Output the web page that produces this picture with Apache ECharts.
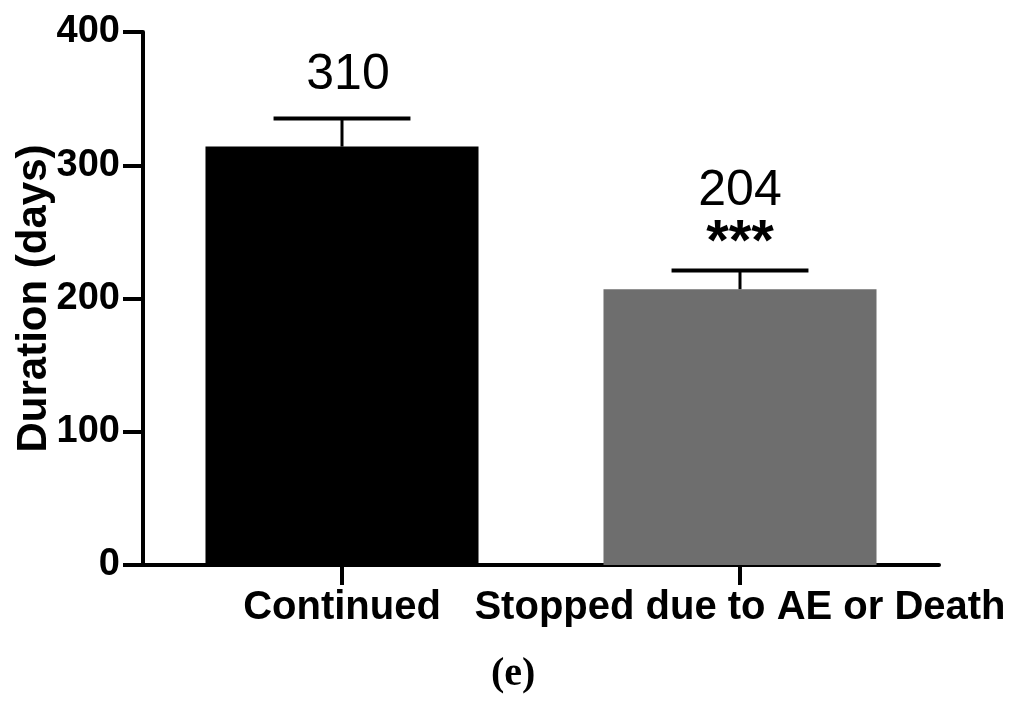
<!DOCTYPE html>
<html>
<head>
<meta charset="utf-8">
<script src="https://cdn.jsdelivr.net/npm/echarts@6/dist/echarts.min.js"></script>
<style>
  html, body { margin: 0; padding: 0; background: #fff; }
  #grafico { width: 1024px; height: 710px; }
</style>
</head>
<body>
<div id="grafico"></div>
<script>
// dados
const categorias = ["Continued", "Stopped due to AE or Death"];
const duracoes = [314, 207];
const topoErro = [335, 221];
const rotulosValor = ["310", "204"];
const rotulosSig = ["", "***"];
const coresBarras = ["#000000", "#6e6e6e"];
const yMin = 0, yMax = 400, yPasso = 100;

const fonte = '"Liberation Sans", Arial, sans-serif';

const dadosErro = categorias.map((c, i) => [i, duracoes[i], topoErro[i], rotulosValor[i], rotulosSig[i]]);

function desenharErro(params, api) {
  const i = api.value(0);
  const base = api.coord([i, api.value(1)]);
  const topo = api.coord([i, api.value(2)]);
  const meia = api.size([1, 0])[0] * 0.172;
  const sig = rotulosSig[i];
  const filhos = [
    { type: "line", shape: { x1: base[0], y1: base[1], x2: topo[0], y2: topo[1] },
      style: { stroke: "#000", lineWidth: 3 } },
    { type: "line", shape: { x1: topo[0] - meia, y1: topo[1], x2: topo[0] + meia, y2: topo[1] },
      style: { stroke: "#000", lineWidth: 4 } },
    { type: "text", style: {
        text: rotulosValor[i], x: topo[0] + (sig ? 0 : 6), y: topo[1] - (sig ? 79 : 43),
        textAlign: "center", textVerticalAlign: "middle",
        font: "50px " + fonte, fill: "#000" } }
  ];
  if (sig) {
    filhos.push({ type: "text", style: {
      text: sig, x: topo[0], y: topo[1] - 27,
      textAlign: "center", textVerticalAlign: "middle",
      font: "bold 58px " + fonte, fill: "#000" } });
  }
  return { type: "group", children: filhos };
}

const chart = echarts.init(document.getElementById("grafico"));
chart.setOption({
  animation: false,
  backgroundColor: "#fff",
  grid: { left: 143, right: 85, top: 32, bottom: 145, containLabel: false, outerBoundsMode: "none" },
  xAxis: {
    type: "category",
    data: categorias,
    axisLine: { lineStyle: { color: "#000", width: 4 } },
    axisTick: { show: true, alignWithLabel: true, length: 20, lineStyle: { color: "#000", width: 4 } },
    axisLabel: { color: "#000", fontSize: 40, fontWeight: "bold", fontFamily: fonte, margin: 23, interval: 0 }
  },
  yAxis: {
    type: "value",
    min: yMin, max: yMax, interval: yPasso,
    name: "Duration (days)",
    nameLocation: "middle",
    nameRotate: 90,
    nameGap: 88,
    nameMoveOverlap: false,
    nameTextStyle: { color: "#000", fontSize: 42, fontWeight: "bold", fontFamily: fonte },
    splitLine: { show: false },
    axisLine: { show: true, lineStyle: { color: "#000", width: 4 } },
    axisTick: { show: true, length: 20, lineStyle: { color: "#000", width: 4 } },
    axisLabel: { color: "#000", fontSize: 38, fontWeight: "bold", fontFamily: fonte, margin: 23 }
  },
  series: [
    {
      type: "bar",
      barWidth: "68.6%",
      data: duracoes.map((v, i) => ({ value: v, itemStyle: { color: coresBarras[i] } })),
      z: 2
    },
    {
      type: "custom",
      renderItem: desenharErro,
      data: dadosErro,
      z: 3
    }
  ],
  graphic: [
    { type: "text", left: 491, top: 655,
      style: { text: "(e)", font: "bold 40px \"Liberation Serif\", serif", fill: "#000" } }
  ]
});
</script>
</body>
</html>
